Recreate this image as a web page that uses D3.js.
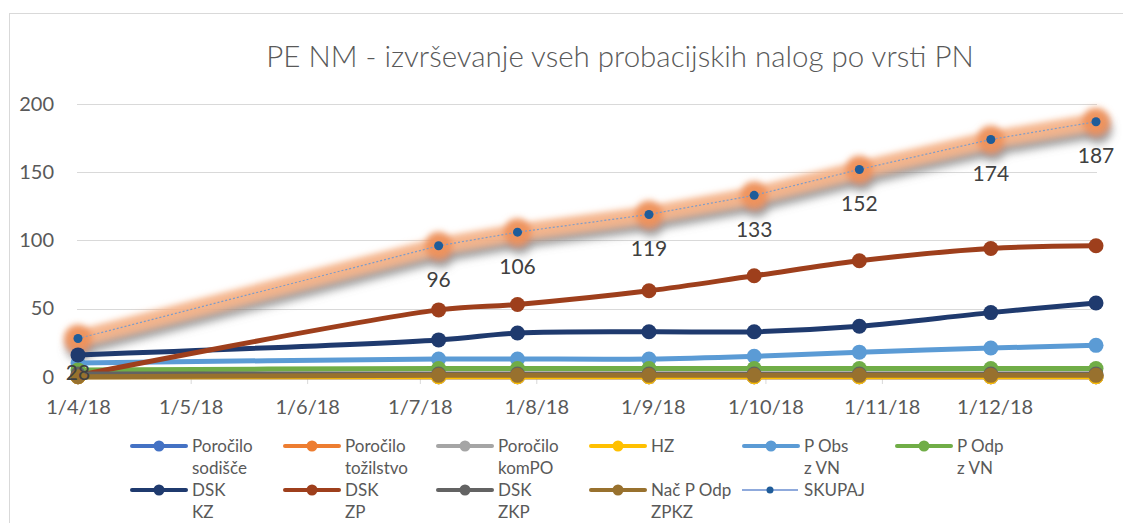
<!DOCTYPE html>
<html><head><meta charset="utf-8">
<script src="https://cdn.jsdelivr.net/npm/d3@7"></script>
<style>
body{margin:0;background:#fff}
svg{display:block}
text{font-family:Lato,"Open Sans",sans-serif}
</style>
</head><body>
<svg id="c" width="1123" height="523"></svg>
<script>
// ---- data ----
const dates = ["2018-04-01","2018-07-06","2018-07-27","2018-08-31","2018-09-28","2018-10-26","2018-11-30","2018-12-28"];
const tickDates = ["2018-04-01","2018-05-01","2018-06-01","2018-07-01","2018-08-01","2018-09-01","2018-10-01","2018-11-01","2018-12-01"];
const tickLabels = ["1/4/18","1/5/18","1/6/18","1/7/18","1/8/18","1/9/18","1/10/18","1/11/18","1/12/18"];
const yTicks = [0,50,100,150,200];

const porociloSodisce   = [0,0,0,0,0,0,0,0];
const porociloTozilstvo = [0,0,0,0,0,0,0,0];
const porociloKomPO     = [0,0,0,0,0,0,0,0];
const hz                = [0,0,0,0,0,0,0,0];
const pObsZVN           = [10,13,13,13,15,18,21,23];
const pOdpZVN           = [5,6,6,6,6,6,6,6];
const dskKZ             = [16,27,32,33,33,37,47,54];
const dskZP             = [1,49,53,63,74,85,94,96];
const dskZKP            = [2,2,2,2,2,2,2,2];
const nacPOdpZPKZ       = [0,1,1,1,1,1,1,1];
const skupaj            = [28,96,106,119,133,152,174,187];

const seriesNames = [["Poročilo","sodišče"],["Poročilo","tožilstvo"],["Poročilo","komPO"],["HZ"],["P Obs","z VN"],["P Odp","z VN"],["DSK","KZ"],["DSK","ZP"],["DSK","ZKP"],["Nač P Odp","ZPKZ"],["SKUPAJ"]];
const seriesValues = [porociloSodisce,porociloTozilstvo,porociloKomPO,hz,pObsZVN,pOdpZVN,dskKZ,dskZP,dskZKP,nacPOdpZPKZ,skupaj];
const seriesColors = ["#4472C4","#ED7D31","#A5A5A5","#FFC000","#5B9BD5","#70AD47","#1F3A6E","#9E3F1C","#636363","#98712E","#1F5C99"];

const title = "PE NM - izvrševanje vseh probacijskih nalog po vrsti PN";

// ---- layout ----
const svg = d3.select("#c");
const parse = d3.timeParse("%Y-%m-%d");
const xDates = dates.map(parse);
const x = d3.scaleTime().domain([xDates[0], xDates[xDates.length-1]]).range([78, 1096]);
const y = d3.scaleLinear().domain([0,200]).range([376.7, 104]);

// border
svg.append("rect").attr("x",9.5).attr("y",13.5).attr("width",1130).attr("height",520)
  .attr("fill","none").attr("stroke","#D9D9D9").attr("stroke-width",1);

// title
svg.append("text").attr("x",620).attr("y",67).attr("text-anchor","middle")
  .attr("font-size",29.5).attr("font-weight",300).attr("fill","#595959").text(title);

// filters
const defs = svg.append("defs");
const f = defs.append("filter").attr("id","glow").attr("x","-20%").attr("y","-50%").attr("width","140%").attr("height","200%");
f.append("feGaussianBlur").attr("in","SourceAlpha").attr("stdDeviation",4).attr("result","sb");
f.append("feOffset").attr("in","sb").attr("dx",2).attr("dy",8).attr("result","so");
f.append("feFlood").attr("flood-color","#7A7A7A").attr("flood-opacity",0.8).attr("result","fc");
f.append("feComposite").attr("in","fc").attr("in2","so").attr("operator","in").attr("result","shadow");
f.append("feGaussianBlur").attr("in","SourceGraphic").attr("stdDeviation",3).attr("result","gb");
const fm = f.append("feMerge");
fm.append("feMergeNode").attr("in","shadow");
fm.append("feMergeNode").attr("in","gb");

// gridlines
svg.append("g").selectAll("line").data(yTicks).join("line")
  .attr("x1",77).attr("x2",1097).attr("y1",d=>Math.round(y(d))+0.5).attr("y2",d=>Math.round(y(d))+0.5)
  .attr("stroke","#D9D9D9").attr("stroke-width",1);

// y axis labels
const yAxis = d3.axisLeft(y).tickValues(yTicks).tickSize(0).tickPadding(0);
const gy = svg.append("g").attr("transform","translate(54,0)").call(yAxis);
gy.select(".domain").remove();
gy.selectAll("text").attr("font-size",20).attr("fill","#595959").attr("font-family","Lato,'Open Sans',sans-serif");

// x axis
const xAxis = d3.axisBottom(x).tickValues(tickDates.map(parse)).tickFormat((d,i)=>tickLabels[i]).tickSize(7).tickPadding(16);
const gx = svg.append("g").attr("transform","translate(0,377)").call(xAxis);
gx.select(".domain").attr("stroke","#D9D9D9").attr("d","M77,0.5H1097");
gx.selectAll(".tick line").attr("stroke","#D9D9D9");
gx.selectAll("text").attr("font-size",20).attr("fill","#595959").attr("font-family","Lato,'Open Sans',sans-serif");

// SKUPAJ glow (under)
const sk = skupaj.map((v,i)=>[x(xDates[i]), y(v)]);
const gGlow = svg.append("g").attr("filter","url(#glow)");
gGlow.append("path").attr("d",d3.line()(sk)).attr("fill","none").attr("stroke","#F6B287").attr("stroke-width",17).attr("stroke-linecap","round").attr("stroke-opacity",0.9);
gGlow.selectAll("circle").data(sk).join("circle").attr("cx",d=>d[0]).attr("cy",d=>d[1]).attr("r",14).attr("fill","#F09159").attr("fill-opacity",0.9);

// series lines
const line = d3.line().curve(d3.curveCatmullRom.alpha(0.5));
for (let s=0; s<10; s++) {
  const pts = seriesValues[s].map((v,i)=>[x(xDates[i]), y(v)]);
  const g = svg.append("g");
  g.append("path").attr("d",line(pts)).attr("fill","none").attr("stroke",seriesColors[s]).attr("stroke-width",5).attr("stroke-linejoin","round").attr("stroke-linecap","round");
  g.selectAll("circle").data(pts).join("circle").attr("cx",d=>d[0]).attr("cy",d=>d[1]).attr("r",7.5).attr("fill",seriesColors[s]);
}

// SKUPAJ line + markers
svg.append("path").attr("d",d3.line()(sk)).attr("fill","none").attr("stroke","#7F9CC8").attr("stroke-width",1.2).attr("stroke-dasharray","2 2");
svg.append("g").selectAll("circle").data(sk).join("circle").attr("cx",d=>d[0]).attr("cy",d=>d[1]).attr("r",4.5).attr("fill",seriesColors[10]);
svg.append("g").selectAll("text").data(sk).join("text")
  .attr("x",d=>d[0]).attr("y",d=>d[1]+34).attr("dy","0.35em").attr("text-anchor","middle")
  .attr("font-size",21).attr("fill","#404040").text((d,i)=>skupaj[i]);

// legend
const legCols = [132,285,438,591,744,897];
const legRows = [446,490];
seriesNames.forEach((nm,s)=>{
  const col = s<6 ? s : s-6;
  const row = s<6 ? 0 : 1;
  const lx = legCols[col], ly = legRows[row];
  const g = svg.append("g");
  if (s===10) {
    g.append("line").attr("x1",lx-2).attr("x2",lx+54).attr("y1",ly).attr("y2",ly).attr("stroke","#8FAADC").attr("stroke-width",2);
    g.append("circle").attr("cx",lx+26).attr("cy",ly).attr("r",3.5).attr("fill",seriesColors[s]);
  } else {
    g.append("line").attr("x1",lx).attr("x2",lx+54).attr("y1",ly).attr("y2",ly).attr("stroke",seriesColors[s]).attr("stroke-width",4).attr("stroke-linecap","round");
    g.append("circle").attr("cx",lx+27).attr("cy",ly).attr("r",5.5).attr("fill",seriesColors[s]);
  }
  const t = g.append("text").attr("x",lx+60).attr("y",ly).attr("font-size",17).attr("fill","#595959");
  nm.forEach((ln,k)=>t.append("tspan").attr("x",lx+60).attr("y",ly+22*k).attr("dy","0.35em").text(ln));
});
</script>
</body></html>
